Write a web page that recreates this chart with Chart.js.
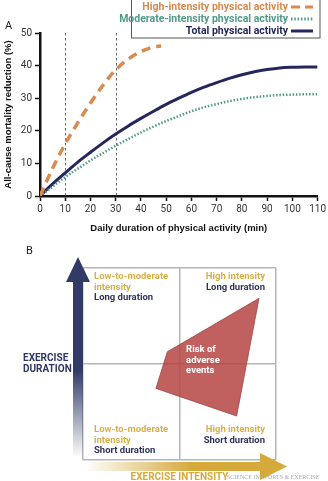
<!DOCTYPE html>
<html>
<head>
<meta charset="utf-8">
<script src="https://cdn.jsdelivr.net/npm/chart.js@4.4.1/dist/chart.umd.min.js"></script>
<style>
  html, body { margin: 0; padding: 0; background: #fff; }
  canvas { position: absolute; left: 0; }
  #chart-a { top: 0; }
  #chart-b { top: 240px; }
</style>
</head>
<body>
<canvas id="chart-a" width="328" height="240"></canvas>
<canvas id="chart-b" width="328" height="241"></canvas>
<script>
// ---- panel A data ----
const minutes = [0, 5, 10, 15, 20, 25, 30, 35, 40, 45, 50, 55, 60, 65, 70, 75, 80, 85, 90, 95, 100, 105, 110];
const totalReduction = [0, 3.7, 7.1, 10.4, 13.4, 16.3, 19, 21.5, 23.8, 26, 28.1, 30, 31.8, 33.4, 34.8, 36.1, 37.2, 38.1, 38.8, 39.3, 39.5, 39.6, 39.6];
const moderateReduction = [0, 2.9, 5.8, 8.4, 10.9, 13.2, 15.4, 17.5, 19.5, 21.3, 23, 24.5, 26, 27.2, 28.2, 29.1, 29.8, 30.3, 30.7, 31, 31.1, 31.2, 31.2];
const highMinutes = [0, 5, 10, 15, 20, 25, 30, 35, 40, 45, 48];
const highReduction = [0, 8.5, 16, 22.5, 28.5, 34, 38.7, 42, 44.3, 45.7, 46];
const markerMinutes = [10, 30];

// ---- panel B data ----
const riskX = [91.2, 43.7, 37.8, 79.6, 91.2];
const riskY = [84.2, 56.4, 37.3, 22.9, 84.2];
const quadrantIntensity = [['Low-to-moderate', 'intensity'], ['High intensity'], ['Low-to-moderate', 'intensity'], ['High intensity']];
const quadrantDuration = ['Long duration', 'Long duration', 'Short duration', 'Short duration'];
const riskLabel = ['Risk of', 'adverse', 'events'];

const pointsOf = (xs, ys) => xs.map((x, i) => ({ x: x, y: ys[i] }));

const GOLD_TEXT = '#d8b04a';
const NAVY_TEXT = '#2f3459';

let markerLines = {
    id: 'markerLines',
    beforeDatasetsDraw(chart) {
        const { ctx, scales: { x, y } } = chart;
        ctx.save();
        ctx.strokeStyle = '#666';
        ctx.lineWidth = 1;
        ctx.setLineDash([2.5, 2.5]);
        markerMinutes.forEach(m => {
            const px = Math.round(x.getPixelForValue(m)) + 0.5;
            ctx.beginPath();
            ctx.moveTo(px, y.getPixelForValue(50));
            ctx.lineTo(px, y.getPixelForValue(0));
            ctx.stroke();
        });
        ctx.restore();
    }
};

let boxLegend = {
    id: 'boxLegend',
    afterDraw(chart) {
        const ctx = chart.ctx;
        ctx.save();
        ctx.fillStyle = '#fff';
        ctx.fillRect(131, -2, 189, 40);
        ctx.strokeStyle = '#555';
        ctx.lineWidth = 1;
        ctx.strokeRect(131.5, -2, 188.5, 40);
        ctx.font = 'bold 10.5px Roboto';
        ctx.textAlign = 'right';
        ctx.textBaseline = 'middle';
        chart.data.datasets.forEach((ds, i) => {
            const yy = 7 + i * 12;
            ctx.fillStyle = ds.borderColor;
            ctx.fillText(ds.label, 288, yy);
            ctx.strokeStyle = ds.borderColor;
            ctx.lineWidth = 3;
            ctx.setLineDash(ds.legendDash);
            ctx.beginPath();
            ctx.moveTo(291, yy);
            ctx.lineTo(313, yy);
            ctx.stroke();
        });
        ctx.setLineDash([]);
        ctx.fillStyle = '#222';
        ctx.textAlign = 'left';
        ctx.font = '11px Roboto';
        ctx.fillText('A', 5, 26);
        ctx.restore();
    }
};

let firstChart = new Chart(document.getElementById('chart-a').getContext('2d'), {
    type: 'line',
    data: {
        datasets: [{
            label: 'High-intensity physical activity',
            data: pointsOf(highMinutes, highReduction),
            borderColor: '#d98a4c',
            borderWidth: 3.5,
            borderDash: [9, 6],
            legendDash: [9, 5]
        }, {
            label: 'Moderate-intensity physical activity',
            data: pointsOf(minutes, moderateReduction),
            borderColor: '#4f9b86',
            borderWidth: 2.5,
            borderDash: [1.5, 1.8],
            legendDash: [1.5, 1.8]
        }, {
            label: 'Total physical activity',
            data: pointsOf(minutes, totalReduction),
            borderColor: '#25275c',
            borderWidth: 3,
            borderDash: [],
            legendDash: []
        }]
    },
    options: {
        responsive: false,
        animation: false,
        layout: { padding: { left: 0, right: 8, top: 33, bottom: 4 } },
        elements: {
            point: { radius: 0 },
            line: { cubicInterpolationMode: 'monotone', fill: false }
        },
        plugins: {
            legend: { display: false },
            tooltip: { enabled: false }
        },
        scales: {
            x: {
                type: 'linear',
                min: 0,
                max: 110,
                afterFit(scale) { scale.height = 40; },
                ticks: { stepSize: 10, color: '#333', font: { family: 'Roboto', size: 10 }, padding: 2, maxRotation: 0 },
                grid: { drawOnChartArea: false, drawTicks: true, tickLength: 5, tickColor: '#111', tickWidth: 1.5 },
                border: { color: '#111', width: 2.5 },
                title: {
                    display: true,
                    text: 'Daily duration of physical activity (min)',
                    color: '#111',
                    font: { family: 'Liberation Sans', size: 9.5, weight: 'bold' },
                    padding: { top: 0, bottom: 2 }
                }
            },
            y: {
                min: 0,
                max: 50,
                afterFit(scale) { scale.width = 40; },
                ticks: { stepSize: 10, color: '#333', font: { family: 'Roboto', size: 10 }, padding: 3 },
                grid: { drawOnChartArea: false, drawTicks: true, tickLength: 5, tickColor: '#111', tickWidth: 1.5 },
                border: { color: '#111', width: 2.5 },
                title: {
                    display: true,
                    text: 'All-cause mortality reduction (%)',
                    color: '#111',
                    font: { family: 'Liberation Sans', size: 9.5, weight: 'bold' },
                    padding: { top: 3, bottom: 0 }
                }
            }
        }
    },
    plugins: [markerLines, boxLegend]
});

let diagramDecor = {
    id: 'diagramDecor',
    afterDraw(chart) {
        const { ctx, chartArea: area, scales: { x, y } } = chart;
        ctx.save();

        // vertical arrow (exercise duration)
        const ax = area.left - 10;
        let grad = ctx.createLinearGradient(0, area.top + 14, 0, area.bottom - 2);
        grad.addColorStop(0, '#323b66');
        grad.addColorStop(0.5, '#323b66');
        grad.addColorStop(1, 'rgba(50,59,102,0)');
        ctx.fillStyle = grad;
        ctx.fillRect(ax, area.top + 13, 10, area.bottom - area.top - 13);
        ctx.fillStyle = '#323b66';
        ctx.beginPath();
        ctx.moveTo(ax + 5, area.top - 11);
        ctx.lineTo(ax + 17, area.top + 14);
        ctx.lineTo(ax - 7, area.top + 14);
        ctx.closePath();
        ctx.fill();

        // horizontal arrow (exercise intensity)
        const ay = area.bottom + 2;
        grad = ctx.createLinearGradient(area.left + 2, 0, area.left + 110, 0);
        grad.addColorStop(0, 'rgba(213,169,58,0)');
        grad.addColorStop(1, '#d5a93a');
        ctx.fillStyle = grad;
        ctx.fillRect(area.left + 2, ay, area.right - area.left - 15, 9);
        ctx.fillStyle = '#d5a93a';
        ctx.beginPath();
        ctx.moveTo(area.right - 16, ay - 9);
        ctx.lineTo(area.right + 11, ay + 4.5);
        ctx.lineTo(area.right - 16, ay + 18);
        ctx.closePath();
        ctx.fill();

        ctx.textBaseline = 'middle';
        ctx.font = 'bold 9.5px Roboto';

        // quadrant labels
        quadrantIntensity.forEach((lines, i) => {
            const isRight = i % 2 === 1;
            const isTop = i < 2;
            const tx = isRight ? area.right - 11 : area.left + 11;
            let ty = isTop ? area.top + 9 : area.bottom - 30;
            ctx.textAlign = isRight ? 'right' : 'left';
            ctx.fillStyle = GOLD_TEXT;
            lines.forEach(line => {
                ctx.fillText(line, tx, ty);
                ty += 10.5;
            });
            ctx.fillStyle = NAVY_TEXT;
            ctx.fillText(quadrantDuration[i], tx, ty);
        });

        // risk label
        ctx.fillStyle = '#fff';
        ctx.textAlign = 'left';
        riskLabel.forEach((line, i) => {
            ctx.fillText(line, x.getPixelForValue(53.4), y.getPixelForValue(57.3) + i * 10.5);
        });

        // axis names
        ctx.font = 'bold 10px Roboto';
        ctx.fillStyle = '#2f3763';
        ctx.fillText('EXERCISE', 23, y.getPixelForValue(50) - 6);
        ctx.fillText('DURATION', 23, y.getPixelForValue(50) + 5.5);
        ctx.fillStyle = '#d5a93a';
        ctx.textAlign = 'center';
        ctx.fillText('EXERCISE INTENSITY', (area.left + area.right) / 2, area.bottom + 17);

        ctx.font = '6px "Liberation Serif"';
        ctx.fillStyle = '#aaa';
        ctx.textAlign = 'left';
        ctx.fillText('SCIENCE IN SPORTS & EXERCISE', 227, area.bottom + 17);

        ctx.font = '11px Roboto';
        ctx.fillStyle = '#222';
        ctx.fillText('B', 26, 11);
        ctx.restore();
    }
};

let secondChart = new Chart(document.getElementById('chart-b').getContext('2d'), {
    type: 'scatter',
    data: {
        datasets: [{
            data: pointsOf(riskX, riskY),
            showLine: true,
            fill: 'shape',
            tension: 0,
            pointRadius: 0,
            borderColor: '#9c4745',
            borderWidth: 0.8,
            backgroundColor: 'rgba(181,68,67,0.85)'
        }]
    },
    options: {
        responsive: false,
        animation: false,
        layout: { padding: { left: 83, right: 52, top: 28, bottom: 21 } },
        plugins: {
            legend: { display: false },
            tooltip: { enabled: false }
        },
        scales: {
            x: {
                min: 0,
                max: 100,
                afterFit(scale) { scale.height = 0; },
                ticks: { display: false, stepSize: 50 },
                grid: { color: '#b5b5b5', lineWidth: 1.5, drawTicks: false },
                border: { display: false }
            },
            y: {
                min: 0,
                max: 100,
                afterFit(scale) { scale.width = 0; },
                ticks: { display: false, stepSize: 50 },
                grid: { color: '#b5b5b5', lineWidth: 1.5, drawTicks: false },
                border: { display: false }
            }
        }
    },
    plugins: [diagramDecor]
});
</script>
</body>
</html>
